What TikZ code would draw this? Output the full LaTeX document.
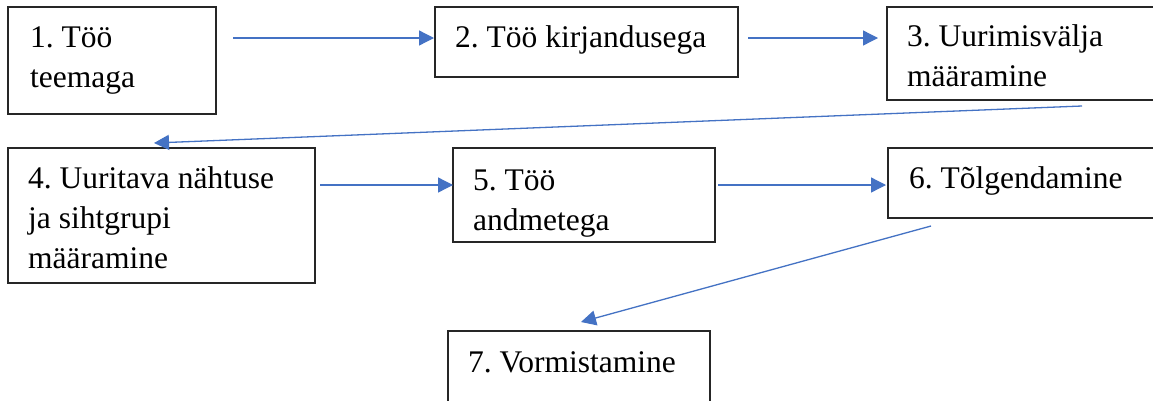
\documentclass[tikz,border=0pt]{standalone}
\usepackage{fontspec}
\setmainfont{Liberation Serif}
\usetikzlibrary{arrows.meta}
\definecolor{flowblue}{HTML}{4472C4}
\frenchspacing
\tikzset{
  box/.style={draw=black!85, line width=1.2pt, rectangle, inner sep=0pt, outer sep=0pt, anchor=north west},
  % anchored at the baseline of the last line of the label
  lbl/.style={inner sep=0pt, anchor=base west, align=left, font=\rmfamily\fontsize{31.5}{40}\selectfont},
  flow/.style={draw=flowblue, line width=1.3pt, -{Triangle[length=15pt,width=15pt]}},
}
\begin{document}
\begin{tikzpicture}[x=1pt, y=-1pt]
\useasboundingbox (0,0) rectangle (1153,400);
\fill[white] (0,0) rectangle (1153,400);

% boxes
\node[box, minimum width=208, minimum height=107] (b1) at (8,7) {};
\node[box, minimum width=303, minimum height=70] (b2) at (435,7) {};
\node[box, minimum width=280, minimum height=93] (b3) at (887,7) {};
\node[box, minimum width=307, minimum height=135] (b4) at (8,148) {};
\node[box, minimum width=262, minimum height=94] (b5) at (453,148) {};
\node[box, minimum width=280, minimum height=70] (b6) at (888,148) {};
\node[box, minimum width=262, minimum height=80] (b7) at (448,331) {};

% texts
\node[lbl] (t1) at (30,87) {1. Töö\\teemaga};
\node[lbl] (t2) at (455,47) {2. Töö kirjandusega};
\node[lbl] (t3) at (907,86) {3. Uurimisvälja\\määramine};
\node[lbl] (t4) at (28,268) {4. Uuritava nähtuse\\ja sihtgrupi\\määramine};
\node[lbl] (t5) at (473,230) {5. Töö\\andmetega};
\node[lbl] (t6) at (909,188) {6. Tõlgendamine};
\node[lbl] (t7) at (468,372) {7. Vormistamine};

% connector end points
\coordinate (a1s) at (233,38);  \coordinate (a1e) at (434,38);
\coordinate (a2s) at (748,38);  \coordinate (a2e) at (878,38);
\coordinate (a3s) at (1082,106); \coordinate (a3e) at (154,143);
\coordinate (a4s) at (320,185); \coordinate (a4e) at (453,185);
\coordinate (a5s) at (718,185); \coordinate (a5e) at (886,185);
\coordinate (a6s) at (931,226); \coordinate (a6e) at (581,322);

% connectors
\draw[flow] (a1s) -- (a1e);
\draw[flow] (a2s) -- (a2e);
\draw[flow] (a3s) -- (a3e);
\draw[flow] (a4s) -- (a4e);
\draw[flow] (a5s) -- (a5e);
\draw[flow] (a6s) -- (a6e);
\end{tikzpicture}
\end{document}
